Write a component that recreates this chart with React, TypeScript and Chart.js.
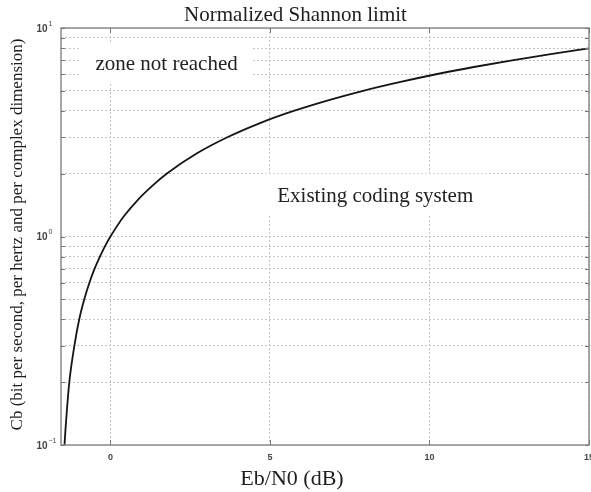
import React, { useEffect, useRef } from "react";
import { Chart, registerables } from "chart.js";

Chart.register(...registerables);

// Spectral efficiency Cb (bit/s/Hz per complex dimension)
const capacity = [
  0.08, 0.1, 0.15, 0.2, 0.3, 0.4, 0.5, 0.6, 0.7, 0.8, 0.9, 1.0, 1.1, 1.25, 1.5,
  1.75, 2.0, 2.5, 3.0, 3.5, 4.0, 4.5, 5.0, 5.5, 6.0, 6.5, 7.0, 7.5, 8.0,
];
// Eb/N0 (dB) at which the curve reaches each capacity value
const ebN0dB = [
  -1.47, -1.44, -1.36, -1.29, -1.13, -0.98, -0.82, -0.66, -0.5, -0.33, -0.17,
  0.0, 0.17, 0.42, 0.86, 1.31, 1.76, 2.7, 3.68, 4.69, 5.74, 6.82, 7.92, 9.06,
  10.21, 11.39, 12.59, 13.8, 15.03,
];

const xTicks = [0, 5, 10, 15];
const xMin = -1.55;
const xMax = 15;
const yMin = 0.1;
const yMax = 10;
const yGrid = [
  0.1, 0.2, 0.3, 0.4, 0.5, 0.6, 0.7, 0.8, 0.9, 1, 2, 3, 4, 5, 6, 7, 8, 9, 10,
];
const yLabelValues = [0.1, 1, 10];
const yLabelBase = ["10", "10", "10"];
const yLabelExp = ["\u22121", "0", "1"];

const titleText = "Normalized Shannon limit";
const xTitle = "Eb/N0 (dB)";
const yTitle = "Cb (bit per second, per hertz and per complex dimension)";

const noteTexts = ["zone not reached", "Existing coding system"];
const noteX = [1.76, 8.3];
const noteY = [6.3, 1.47];

const SERIF = '"Liberation Serif", "Times New Roman", serif';
const SANS = '"Liberation Sans", Arial, sans-serif';

export default function App() {
  const ref = useRef<HTMLCanvasElement | null>(null);

  useEffect(() => {
    const canvas = ref.current;
    if (!canvas) return;

    const decor = {
      id: "decor",
      beforeDatasetsDraw(chart: any) {
        const ctx = chart.ctx;
        const xs = chart.scales.x;
        const ys = chart.scales.y;
        ctx.save();
        ctx.font = `21px ${SERIF}`;
        noteTexts.forEach((t, i) => {
          const w = ctx.measureText(t).width;
          const cx = xs.getPixelForValue(noteX[i]);
          const by = ys.getPixelForValue(noteY[i]);
          ctx.fillStyle = "#ffffff";
          ctx.fillRect(cx - w / 2 - 15, by - 28, w + 30, 42);
        });
        ctx.restore();
      },
      afterDraw(chart: any) {
        const ctx = chart.ctx;
        const a = chart.chartArea;
        const xs = chart.scales.x;
        const ys = chart.scales.y;
        ctx.save();
        ctx.setLineDash([]);
        // axes box
        ctx.strokeStyle = "#8c8c8c";
        ctx.lineWidth = 1.5;
        ctx.strokeRect(a.left, a.top, a.right - a.left, a.bottom - a.top);
        // inward ticks
        ctx.lineWidth = 1;
        ctx.strokeStyle = "#777";
        ctx.beginPath();
        xTicks.forEach((v) => {
          const px = Math.round(xs.getPixelForValue(v)) + 0.5;
          ctx.moveTo(px, a.bottom);
          ctx.lineTo(px, a.bottom - 5);
          ctx.moveTo(px, a.top);
          ctx.lineTo(px, a.top + 5);
        });
        yGrid.forEach((v) => {
          const py = Math.round(ys.getPixelForValue(v)) + 0.5;
          ctx.moveTo(a.left, py);
          ctx.lineTo(a.left + 4, py);
          ctx.moveTo(a.right, py);
          ctx.lineTo(a.right - 4, py);
        });
        ctx.stroke();

        // y tick labels (10^k)
        ctx.fillStyle = "#444";
        yLabelValues.forEach((v, i) => {
          const py = ys.getPixelForValue(v);
          ctx.font = `bold 10px ${SANS}`;
          ctx.textAlign = "right";
          ctx.textBaseline = "middle";
          ctx.fillText(yLabelBase[i], 47.5, py + 1);
          ctx.font = `7px ${SANS}`;
          ctx.textAlign = "left";
          ctx.fillText(yLabelExp[i], 48.5, py - 4);
        });

        // notes
        ctx.fillStyle = "#222";
        ctx.font = `21px ${SERIF}`;
        ctx.textAlign = "center";
        ctx.textBaseline = "alphabetic";
        noteTexts.forEach((t, i) => {
          ctx.fillText(t, xs.getPixelForValue(noteX[i]), ys.getPixelForValue(noteY[i]));
        });

        // titles
        ctx.fillStyle = "#1e1e1e";
        ctx.font = `21px ${SERIF}`;
        ctx.fillText(titleText, chart.width / 2, 21);
        ctx.font = `22px ${SERIF}`;
        ctx.fillText(xTitle, 292, 485);
        ctx.save();
        ctx.translate(22, (a.top + a.bottom) / 2 - 2);
        ctx.rotate(-Math.PI / 2);
        ctx.font = `17px ${SERIF}`;
        ctx.fillText(yTitle, 0, 0);
        ctx.restore();
        ctx.restore();
      },
    };

    const chart = new Chart(canvas, {
      type: "scatter",
      data: {
        datasets: [
          {
            data: capacity.map((c, i) => ({ x: ebN0dB[i], y: c })),
            showLine: true,
            borderColor: "#151515",
            borderWidth: 1.8,
            pointRadius: 0,
            cubicInterpolationMode: "monotone",
          },
        ],
      },
      options: {
        animation: false,
        responsive: false,
        devicePixelRatio: 1,
        layout: { padding: { top: 28, right: 2, left: 0, bottom: 0 } },
        plugins: {
          legend: { display: false },
          title: { display: false },
          tooltip: { enabled: false },
        },
        scales: {
          x: {
            type: "linear",
            min: xMin,
            max: xMax,
            afterBuildTicks: (s: any) => {
              s.ticks = xTicks.map((v) => ({ value: v }));
            },
            afterFit: (s: any) => {
              s.height = 47;
              s.paddingLeft = 0;
              s.paddingRight = 0;
            },
            grid: { color: "#c4c4c4", lineWidth: 1, drawTicks: false },
            border: { display: false, dash: [2, 2] },
            ticks: {
              padding: 7,
              color: "#444",
              font: { family: SANS, size: 9, weight: "bold" },
              maxRotation: 0,
              autoSkip: false,
              callback: (v: any) => String(v),
            },
          },
          y: {
            type: "logarithmic",
            min: yMin,
            max: yMax,
            afterBuildTicks: (s: any) => {
              s.ticks = yGrid.map((v) => ({ value: v }));
            },
            afterFit: (s: any) => {
              s.width = 61;
              s.paddingTop = 0;
              s.paddingBottom = 0;
            },
            grid: { color: "#c4c4c4", lineWidth: 1, drawTicks: false },
            border: { display: false, dash: [2, 2] },
            ticks: { display: false },
          },
        },
      },
      plugins: [decor],
    } as any);

    return () => chart.destroy();
  }, []);

  return (
    <div style={{ position: "absolute", left: 0, top: 0, width: 591, height: 492, background: "#fff" }}>
      <canvas ref={ref} width={591} height={492} style={{ display: "block" }} />
    </div>
  );
}
